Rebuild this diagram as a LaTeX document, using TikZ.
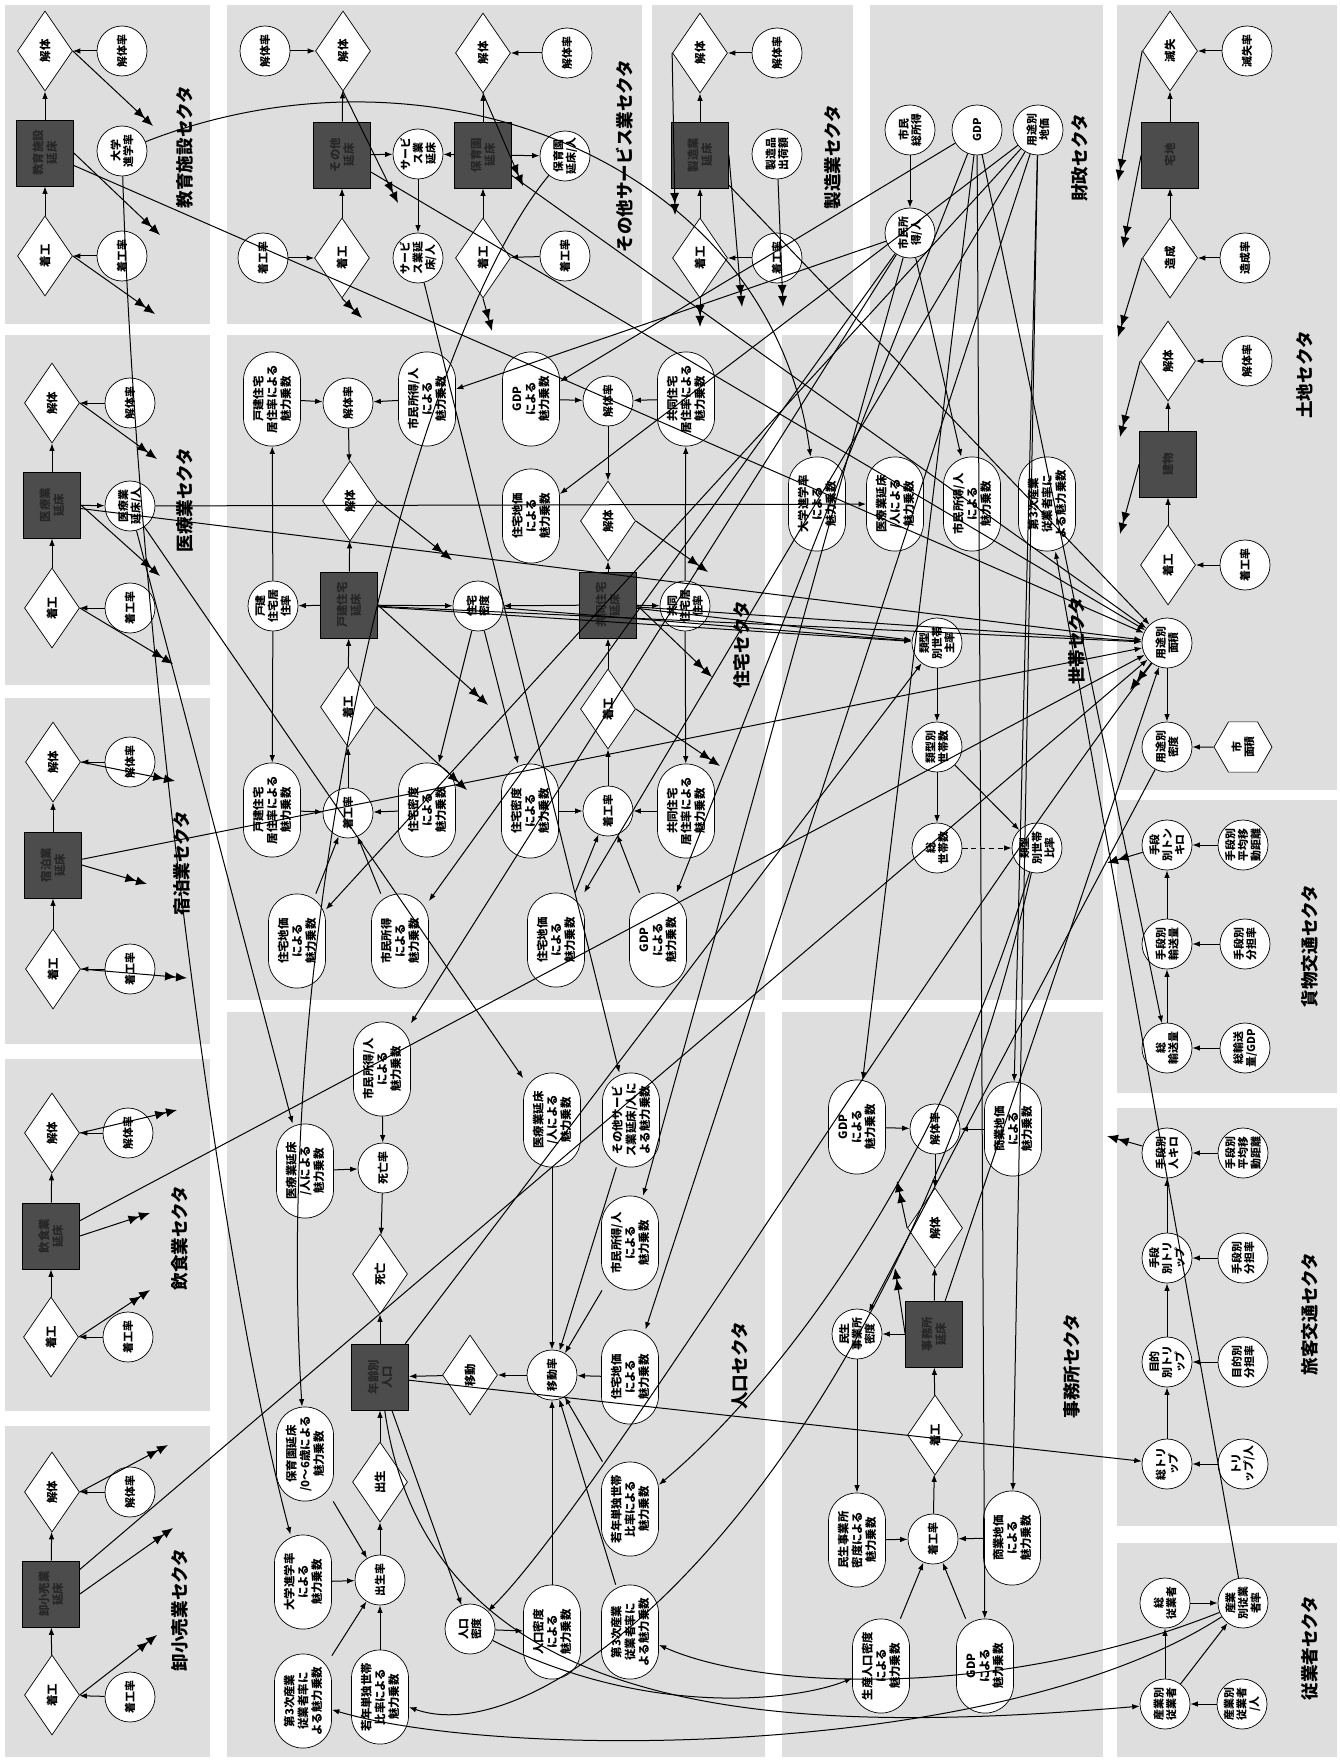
\documentclass[tikz,border=0pt]{standalone}
\usepackage{fontspec}
\setmainfont{Noto Sans CJK JP}
\usetikzlibrary{arrows.meta,shapes.geometric}
\newcommand\sdfont{\fontsize{6.5}{7.8}\selectfont\bfseries}
\newcommand\sdsmall{\fontsize{6.2}{7.2}\selectfont\bfseries}
\newcommand\secfont{\fontsize{10}{11}\selectfont\bfseries}
\tikzset{
panelbg/.style={fill=black!13,draw=none},
ratenode/.style={circle,draw,fill=white,minimum size=10mm,inner sep=0pt,align=center,font=\sdsmall,rotate=90},
flownode/.style={diamond,draw,fill=white,minimum width=16mm,minimum height=11mm,inner sep=0pt,font=\sdfont,rotate=90},
stocknode/.style={rectangle,draw,fill=black!70,text=black!85,minimum width=13.2mm,minimum height=11.4mm,inner sep=0pt,align=center,font=\sdfont,rotate=90},
multnode/.style={rectangle,rounded corners=5.6mm,draw,fill=white,minimum width=18.8mm,minimum height=11.4mm,inner sep=0pt,align=center,font=\sdfont,rotate=90},
hexnode/.style={regular polygon,regular polygon sides=6,regular polygon rotate=30,draw,fill=white,minimum size=11.6mm,inner sep=0pt,align=center,font=\sdsmall,rotate=90},
seclabel/.style={font=\secfont,rotate=90,inner sep=1pt},
arr/.style={-{Latex[length=1.5mm,width=1.1mm]},line width=0.2mm},
outarr/.style={-{Latex[length=2.2mm,width=1.8mm] Latex[length=2.2mm,width=1.8mm]},line width=0.2mm},
dotarr/.style={arr,densely dashed}
}

\begin{document}
\begin{tikzpicture}[
x=0.2mm,
y=-0.2mm
]
\useasboundingbox (0,0) rectangle (1339,1762);
\fill[white] (0,0) rectangle (1339,1762);
% sector panels
\fill[panelbg] (5,5) rectangle (210,324);
\fill[panelbg] (5,335) rectangle (210,685);
\fill[panelbg] (5,698) rectangle (210,1044);
\fill[panelbg] (5,1059) rectangle (210,1411);
\fill[panelbg] (5,1426) rectangle (210,1757);
\fill[panelbg] (227,5) rectangle (642,324);
\fill[panelbg] (652,5) rectangle (853,324);
\fill[panelbg] (870,5) rectangle (1103,324);
\fill[panelbg] (1117,5) rectangle (1337,790);
\fill[panelbg] (227,335) rectangle (765,1000);
\fill[panelbg] (782,335) rectangle (1103,1000);
\fill[panelbg] (227,1012) rectangle (765,1757);
\fill[panelbg] (782,1012) rectangle (1103,1757);
\fill[panelbg] (1117,800) rectangle (1337,1093);
\fill[panelbg] (1117,1108) rectangle (1337,1526);
\fill[panelbg] (1117,1543) rectangle (1337,1757);

% sector labels
\node[seclabel] (secEdu) at (185,147) {教育施設セクタ};
\node[seclabel] (secMed) at (185,500) {医療業セクタ};
\node[seclabel] (secLod) at (182,863) {宿泊業セクタ};
\node[seclabel] (secEat) at (180,1238) {飲食業セクタ};
\node[seclabel] (secRet) at (180,1610) {卸小売業セクタ};
\node[seclabel] (secSrv) at (625,156) {その他サービス業セクタ};
\node[seclabel] (secMfg) at (833,157) {製造業セクタ};
\node[seclabel] (secFin) at (1080,158) {財政セクタ};
\node[seclabel] (secLnd) at (1305,375) {土地セクタ};
\node[seclabel] (secHse) at (742,645) {住宅セクタ};
\node[seclabel] (secHh) at (1077,641) {世帯セクタ};
\node[seclabel] (secPop) at (740,1366) {人口セクタ};
\node[seclabel] (secOfc) at (1072,1366) {事務所セクタ};
\node[seclabel] (secFrt) at (1310,946) {貨物交通セクタ};
\node[seclabel] (secPsg) at (1310,1314) {旅客交通セクタ};
\node[seclabel] (secEmp) at (1310,1648) {従業者セクタ};

% left column sectors
\node[flownode] (eduDem) at (45,51) {解体};
\node[ratenode] (eduDemR) at (122,51) {解体率};
\node[stocknode] (eduBox) at (45,153) {教育施設\\延床};
\node[ratenode] (eduUniv) at (122,151) {大学\\進学率};
\node[flownode] (eduCon) at (45,256) {着工};
\node[ratenode] (eduConR) at (122,256) {着工率};

\node[flownode] (medDem) at (52,403) {解体};
\node[ratenode] (medDemR) at (130,403) {解体率};
\node[stocknode] (medBox) at (52,505) {医療業\\延床};
\node[ratenode] (medPer) at (130,506) {医療業\\延床/人};
\node[flownode] (medCon) at (52,608) {着工};
\node[ratenode] (medConR) at (130,608) {着工率};

\node[flownode] (lodDem) at (53,762) {解体};
\node[ratenode] (lodDemR) at (130,762) {解体率};
\node[stocknode] (lodBox) at (53,865) {宿泊業\\延床};
\node[flownode] (lodCon) at (53,969) {着工};
\node[ratenode] (lodConR) at (130,969) {着工率};

\node[flownode] (eatDem) at (52,1133) {解体};
\node[ratenode] (eatDemR) at (128,1133) {解体率};
\node[stocknode] (eatBox) at (51,1236) {飲食業\\延床};
\node[flownode] (eatCon) at (51,1337) {着工};
\node[ratenode] (eatConR) at (128,1337) {着工率};

\node[flownode] (retDem) at (52,1492) {解体};
\node[ratenode] (retDemR) at (130,1492) {解体率};
\node[stocknode] (retBox) at (51,1594) {卸小売業\\延床};
\node[flownode] (retCon) at (52,1695) {着工};
\node[ratenode] (retConR) at (130,1697) {着工率};

% top middle sectors
\node[ratenode] (srvDemR) at (265,51) {解体率};
\node[flownode] (srvDem) at (343,51) {解体};
\node[stocknode] (srvBox) at (342,155) {その他\\延床};
\node[ratenode] (srvFloor) at (418,154) {サービ\\ス業\\延床};
\node[ratenode] (srvConR) at (263,258) {着工率};
\node[flownode] (srvCon) at (342,258) {着工};
\node[ratenode] (srvPer) at (418,258) {サービ\\ス業延\\床/人};

\node[flownode] (nurDem) at (483,53) {解体};
\node[ratenode] (nurDemR) at (567,53) {解体率};
\node[stocknode] (nurBox) at (483,155) {保育園\\延床};
\node[ratenode] (nurPer) at (565,156) {保育園\\延床/人};
\node[flownode] (nurCon) at (483,258) {着工};
\node[ratenode] (nurConR) at (565,256) {着工率};

\node[flownode] (mfgDem) at (700,53) {解体};
\node[ratenode] (mfgDemR) at (777,53) {解体率};
\node[stocknode] (mfgBox) at (700,155) {製造業\\延床};
\node[ratenode] (mfgShip) at (777,154) {製造品\\出荷額};
\node[flownode] (mfgCon) at (700,258) {着工};
\node[ratenode] (mfgConR) at (777,258) {着工率};

\node[ratenode] (finInc) at (910,130) {市民\\総所得};
\node[ratenode] (finGDP) at (977,130) {GDP};
\node[ratenode] (finLP) at (1038,130) {用途別\\地価};
\node[ratenode] (finIncP) at (910,233) {市民所\\得/人};

\node[flownode] (lndLoss) at (1170,51) {滅失};
\node[ratenode] (lndLossR) at (1247,51) {滅失率};
\node[stocknode] (lndRoad) at (1170,155) {宅地};
\node[flownode] (lndMake) at (1170,258) {造成};
\node[ratenode] (lndMakeR) at (1245,258) {造成率};
\node[flownode] (lndDem) at (1168,361) {解体};
\node[ratenode] (lndDemR) at (1247,361) {解体率};
\node[stocknode] (lndBox) at (1168,464) {建物};
\node[flownode] (lndCon) at (1168,565) {着工};
\node[ratenode] (lndConR) at (1245,565) {着工率};
\node[ratenode] (lndArea) at (1167,643) {用途別\\面積};
\node[ratenode] (lndDen) at (1167,747) {用途別\\密度};
\node[hexnode] (lndCity) at (1243,747) {市\\面積};

% housing
\node[multnode] (hseDetRR) at (272,399) {戸建住宅\\居住率による\\魅力乗数};
\node[ratenode] (hseDetDemR) at (348,403) {解体率};
\node[multnode] (hseIncRR) at (427,399) {市民所得/人\\による\\魅力乗数};
\node[flownode] (hseDetDem) at (350,501) {解体};
\node[stocknode] (hseDetBox) at (349,605) {戸建住宅\\延床};
\node[ratenode] (hseDetRes) at (273,606) {戸建\\住宅居\\住率};
\node[ratenode] (hseDen) at (478,606) {住宅\\密度};
\node[flownode] (hseDetCon) at (348,707) {着工};
\node[multnode] (hseDetRR2) at (272,810) {戸建住宅\\居住率による\\魅力乗数};
\node[ratenode] (hseDetConR) at (348,813) {着工率};
\node[multnode] (hseDenRR) at (427,810) {住宅密度\\による\\魅力乗数};
\node[multnode] (hseLpRR) at (297,941) {住宅地価\\による\\魅力乗数};
\node[multnode] (hseIncRR2) at (400,941) {市民所得\\による\\魅力乗数};

\node[multnode] (hseGdpRR) at (531,399) {GDP\\による\\魅力乗数};
\node[ratenode] (hseColDemR) at (608,401) {解体率};
\node[multnode] (hseColRR) at (686,399) {共同住宅\\居住率による\\魅力乗数};
\node[multnode] (hseLpRR0) at (531,516) {住宅地価\\による\\魅力乗数};
\node[flownode] (hseColDem) at (608,521) {解体};
\node[stocknode] (hseColBox) at (608,605) {共同住宅\\延床};
\node[ratenode] (hseColRes) at (685,606) {共同\\住宅居\\住率};
\node[flownode] (hseColCon) at (608,709) {着工};
\node[multnode] (hseDenRR2) at (530,811) {住宅密度\\による\\魅力乗数};
\node[ratenode] (hseColConR) at (608,811) {着工率};
\node[multnode] (hseColRR2) at (686,811) {共同住宅\\居住率による\\魅力乗数};
\node[multnode] (hseLpRR2) at (556,940) {住宅地価\\による\\魅力乗数};
\node[multnode] (hseGdpRR2) at (658,940) {GDP\\による\\魅力乗数};

% households
\node[multnode] (eduRR) at (817,504) {大学進学率\\による\\魅力乗数};
\node[multnode] (medRR) at (895,504) {医療業延床\\/人による\\魅力乗数};
\node[multnode] (incRR) at (972,504) {市民所得/人\\による\\魅力乗数};
\node[multnode] (terRR) at (1047,504) {第3次産業\\従業者率に\\よる魅力乗数};
\node[ratenode] (hhHeadR) at (937,643) {類型\\別世帯\\主率};
\node[ratenode] (hhNum) at (937,747) {類型別\\世帯数};
\node[ratenode] (hhTot) at (937,848) {総\\世帯数};
\node[ratenode] (hhRatio) at (1037,848) {類型\\別世帯\\比率};

% freight
\node[ratenode] (frtTkm) at (1167,845) {手段\\別トン\\キロ};
\node[ratenode] (frtDist) at (1243,845) {手段別\\平均移\\動距離};
\node[ratenode] (frtMode) at (1167,944) {手段別\\輸送量};
\node[ratenode] (frtShare) at (1245,944) {手段別\\分担率};
\node[ratenode] (frtTot) at (1167,1048) {総\\輸送量};
\node[ratenode] (frtGdp) at (1245,1048) {総輸送\\量/GDP};

% passengers
\node[ratenode] (psgPkm) at (1167,1153) {手段別\\人キロ};
\node[ratenode] (psgDist) at (1243,1153) {手段別\\平均移\\動距離};
\node[ratenode] (psgMode) at (1167,1258) {手段\\別トリ\\ップ};
\node[ratenode] (psgModeS) at (1243,1258) {手段別\\分担率};
\node[ratenode] (psgPurp) at (1167,1362) {目的\\別トリ\\ップ};
\node[ratenode] (psgPurpS) at (1243,1362) {目的別\\分担率};
\node[ratenode] (psgTot) at (1167,1464) {総トリ\\ップ};
\node[ratenode] (psgPer) at (1243,1464) {トリ\\ップ/人};

% employees
\node[ratenode] (empTot) at (1165,1603) {総\\従業者};
\node[ratenode] (empRate) at (1243,1603) {産業\\別従業\\者率};
\node[ratenode] (empInd) at (1165,1704) {産業別\\従業者};
\node[ratenode] (empPer) at (1242,1704) {産業別\\従業者\\/人};

% population
\node[multnode] (popIncRR) at (382,1069) {市民所得/人\\による\\魅力乗数};
\node[multnode] (popMedRR) at (305,1171) {医療業延床\\/人による\\魅力乗数};
\node[ratenode] (popDthR) at (383,1168) {死亡率};
\node[flownode] (popDth) at (380,1274) {死亡};
\node[stocknode] (popBox) at (380,1377) {年齢別\\人口};
\node[flownode] (popBirth) at (380,1482) {出生};
\node[multnode] (popNurRR) at (305,1454) {保育園延床\\/0〜6歳による\\魅力乗数};
\node[multnode] (popUnivRR) at (303,1582) {大学進学率\\による\\魅力乗数};
\node[ratenode] (popBirthR) at (380,1580) {出生率};
\node[multnode] (popTerRR) at (303,1701) {第3次産業\\従業者率に\\よる魅力乗数};
\node[multnode] (popYngRR) at (380,1697) {若年単独世帯\\比率による\\魅力乗数};
\node[multnode] (popMedRR2) at (552,1120) {医療業延床\\/人による\\魅力乗数};
\node[multnode] (popSrvRR) at (631,1120) {その他サービ\\ス業延床/人に\\よる魅力乗数};
\node[multnode] (popIncRR2) at (630,1243) {市民所得/人\\による\\魅力乗数};
\node[flownode] (popMov) at (470,1375) {移動};
\node[ratenode] (popMovR) at (552,1375) {移動率};
\node[multnode] (popLpRR) at (630,1377) {住宅地価\\による\\魅力乗数};
\node[multnode] (popYngRR2) at (630,1509) {若年単独世帯\\比率による\\魅力乗数};
\node[ratenode] (popDen) at (470,1629) {人口\\密度};
\node[multnode] (popDenRR) at (552,1632) {人口密度\\による\\魅力乗数};
\node[multnode] (popTerRR2) at (630,1632) {第3次産業\\従業者率に\\よる魅力乗数};

% offices
\node[multnode] (ofcGdpRR) at (857,1127) {GDP\\による\\魅力乗数};
\node[ratenode] (ofcDemR) at (935,1129) {解体率};
\node[multnode] (ofcLpRR) at (1013,1129) {商業地価\\による\\魅力乗数};
\node[flownode] (ofcDem) at (935,1228) {解体};
\node[stocknode] (ofcBox) at (934,1334) {事務所\\延床};
\node[ratenode] (ofcWelf) at (857,1334) {民生\\事業所\\密度};
\node[flownode] (ofcCon) at (935,1435) {着工};
\node[ratenode] (ofcConR) at (933,1539) {着工率};
\node[multnode] (ofcWelfRR) at (857,1540) {民生事業所\\密度による\\魅力乗数};
\node[multnode] (ofcLpRR2) at (1012,1538) {商業地価\\による\\魅力乗数};
\node[multnode] (ofcProdRR) at (881,1666) {生産人口密度\\による\\魅力乗数};
\node[multnode] (ofcGdpRR2) at (985,1666) {GDP\\による\\魅力乗数};

% ends of outgoing links
\coordinate (eduOutA) at (153,126);
\coordinate (eduOutB) at (160,235);
\coordinate (eduOutC) at (155,314);
\coordinate (medOutA) at (157,459);
\coordinate (medOutB) at (160,576);
\coordinate (medOutC) at (173,664);
\coordinate (lodOutA) at (175,781);
\coordinate (lodOutB) at (147,884);
\coordinate (lodOutC) at (187,978);
\coordinate (eatOutA) at (177,1110);
\coordinate (eatOutB) at (150,1213);
\coordinate (eatOutC) at (150,1290);
\coordinate (retOutA) at (168,1445);
\coordinate (retOutB) at (173,1528);
\coordinate (retOutC) at (157,1635);
\coordinate (srvOutA) at (398,203);
\coordinate (srvOutB) at (362,318);
\coordinate (nurOutA) at (523,186);
\coordinate (nurOutB) at (492,331);
\coordinate (mfgOutA) at (675,215);
\coordinate (mfgOutB) at (742,307);
\coordinate (mfgOutC) at (700,327);
\coordinate (mfgOutD) at (783,307);
\coordinate (lndOutA) at (1118,181);
\coordinate (lndOutB) at (1123,248);
\coordinate (lndOutC) at (1118,337);
\coordinate (lndOutD) at (1120,437);
\coordinate (lndOutE) at (1120,534);
\coordinate (lndOutF) at (1130,690);
\coordinate (hseOutA) at (452,560);
\coordinate (hseOutB) at (488,705);
\coordinate (hseOutC) at (467,790);
\coordinate (hseOutD) at (708,572);
\coordinate (hseOutE) at (712,677);
\coordinate (hseOutF) at (720,766);
\coordinate (ofcOutA) at (897,1181);
\coordinate (ofcOutB) at (895,1268);
\coordinate (frtOut) at (1107,863);
\coordinate (psgOut) at (1107,1136);

% stock and flow chains
\draw[arr] (eduCon)--(eduBox);
\draw[arr] (eduBox)--(eduDem);
\draw[arr] (eduDemR)--(eduDem);
\draw[arr] (eduConR)--(eduCon);
\draw[arr] (medCon)--(medBox);
\draw[arr] (medBox)--(medDem);
\draw[arr] (medDemR)--(medDem);
\draw[arr] (medConR)--(medCon);
\draw[arr] (medBox)--(medPer);
\draw[arr] (lodCon)--(lodBox);
\draw[arr] (lodBox)--(lodDem);
\draw[arr] (lodDemR)--(lodDem);
\draw[arr] (lodConR)--(lodCon);
\draw[arr] (eatCon)--(eatBox);
\draw[arr] (eatBox)--(eatDem);
\draw[arr] (eatDemR)--(eatDem);
\draw[arr] (eatConR)--(eatCon);
\draw[arr] (retCon)--(retBox);
\draw[arr] (retBox)--(retDem);
\draw[arr] (retDemR)--(retDem);
\draw[arr] (retConR)--(retCon);

\draw[arr] (srvCon)--(srvBox);
\draw[arr] (srvBox)--(srvDem);
\draw[arr] (srvDemR)--(srvDem);
\draw[arr] (srvConR)--(srvCon);
\draw[arr] (srvBox)--(srvFloor);
\draw[arr] (nurBox)--(srvFloor);
\draw[arr] (srvFloor)--(srvPer);
\draw[arr] (nurCon)--(nurBox);
\draw[arr] (nurBox)--(nurDem);
\draw[arr] (nurDemR)--(nurDem);
\draw[arr] (nurConR)--(nurCon);
\draw[arr] (nurBox)--(nurPer);
\draw[arr] (mfgCon)--(mfgBox);
\draw[arr] (mfgBox)--(mfgDem);
\draw[arr] (mfgDemR)--(mfgDem);
\draw[arr] (mfgConR)--(mfgCon);

\draw[arr] (finInc)--(finIncP);
\draw[arr] (lndMake)--(lndRoad);
\draw[arr] (lndRoad)--(lndLoss);
\draw[arr] (lndLossR)--(lndLoss);
\draw[arr] (lndMakeR)--(lndMake);
\draw[arr] (lndCon)--(lndBox);
\draw[arr] (lndBox)--(lndDem);
\draw[arr] (lndDemR)--(lndDem);
\draw[arr] (lndConR)--(lndCon);
\draw[arr] (lndArea)--(lndDen);
\draw[arr] (lndCity)--(lndDen);

\draw[arr] (hseDetRR)--(hseDetDemR);
\draw[arr] (hseIncRR)--(hseDetDemR);
\draw[arr] (hseDetDemR)--(hseDetDem);
\draw[arr] (hseDetBox)--(hseDetDem);
\draw[arr] (hseDetBox)--(hseDetRes);
\draw[arr] (hseDetCon)--(hseDetBox);
\draw[arr] (hseDetConR)--(hseDetCon);
\draw[arr] (hseDetRR2)--(hseDetConR);
\draw[arr] (hseDenRR)--(hseDetConR);
\draw[arr] (hseLpRR)--(hseDetConR);
\draw[arr] (hseIncRR2)--(hseDetConR);
\draw[arr] (hseDetRes)--(hseDetRR);
\draw[arr] (hseDetRes)--(hseDetRR2);
\draw[arr] (hseDen)--(hseDenRR);
\draw[arr] (hseDen)--(hseDenRR2);
\draw[arr] (hseDetBox)--(hseDen);
\draw[arr] (hseColBox)--(hseDen);
\draw[arr] (hseGdpRR)--(hseColDemR);
\draw[arr] (hseColRR)--(hseColDemR);
\draw[arr] (hseColDemR)--(hseColDem);
\draw[arr] (hseColBox)--(hseColDem);
\draw[arr] (hseColBox)--(hseColRes);
\draw[arr] (hseColCon)--(hseColBox);
\draw[arr] (hseColConR)--(hseColCon);
\draw[arr] (hseDenRR2)--(hseColConR);
\draw[arr] (hseColRR2)--(hseColConR);
\draw[arr] (hseLpRR2)--(hseColConR);
\draw[arr] (hseGdpRR2)--(hseColConR);
\draw[arr] (hseColRes)--(hseColRR);
\draw[arr] (hseColRes)--(hseColRR2);

\draw[arr] (hhHeadR)--(hhNum);
\draw[arr] (hhNum)--(hhTot);
\draw[dotarr] (hhTot)--(hhRatio);
\draw[arr] (hhNum)--(hhRatio);

\draw[arr] (frtGdp)--(frtTot);
\draw[arr] (frtTot)--(frtMode);
\draw[arr] (frtShare)--(frtMode);
\draw[arr] (frtMode)--(frtTkm);
\draw[arr] (frtDist)--(frtTkm);
\draw[arr] (psgPer)--(psgTot);
\draw[arr] (psgTot)--(psgPurp);
\draw[arr] (psgPurpS)--(psgPurp);
\draw[arr] (psgPurp)--(psgMode);
\draw[arr] (psgModeS)--(psgMode);
\draw[arr] (psgMode)--(psgPkm);
\draw[arr] (psgDist)--(psgPkm);
\draw[arr] (empPer)--(empInd);
\draw[arr] (empInd)--(empTot);
\draw[arr] (empTot)--(empRate);
\draw[arr] (empInd)--(empRate);

\draw[arr] (popIncRR)--(popDthR);
\draw[arr] (popMedRR)--(popDthR);
\draw[arr] (popDthR)--(popDth);
\draw[arr] (popBox)--(popDth);
\draw[arr] (popBirth)--(popBox);
\draw[arr] (popBirthR)--(popBirth);
\draw[arr] (popNurRR)--(popBirthR);
\draw[arr] (popUnivRR)--(popBirthR);
\draw[arr] (popTerRR)--(popBirthR);
\draw[arr] (popYngRR)--(popBirthR);
\draw[arr] (popMovR)--(popMov);
\draw[arr] (popMov)--(popBox);
\draw[arr] (popMedRR2)--(popMovR);
\draw[arr] (popSrvRR)--(popMovR);
\draw[arr] (popIncRR2)--(popMovR);
\draw[arr] (popLpRR)--(popMovR);
\draw[arr] (popYngRR2)--(popMovR);
\draw[arr] (popDenRR)--(popMovR);
\draw[arr] (popTerRR2)--(popMovR);
\draw[arr] (popDen)--(popDenRR);
\draw[arr] (popBox)--(popDen);

\draw[arr] (ofcGdpRR)--(ofcDemR);
\draw[arr] (ofcLpRR)--(ofcDemR);
\draw[arr] (ofcDemR)--(ofcDem);
\draw[arr] (ofcBox)--(ofcDem);
\draw[arr] (ofcCon)--(ofcBox);
\draw[arr] (ofcConR)--(ofcCon);
\draw[arr] (ofcWelfRR)--(ofcConR);
\draw[arr] (ofcLpRR2)--(ofcConR);
\draw[arr] (ofcProdRR)--(ofcConR);
\draw[arr] (ofcGdpRR2)--(ofcConR);
\draw[arr] (ofcWelf)--(ofcWelfRR);
\draw[arr] (ofcBox)--(ofcWelf);

% outgoing links
\draw[outarr] (eduDem.south)--(eduOutA);
\draw[outarr] (eduBox.south)--(eduOutB);
\draw[outarr] (eduCon.south)--(eduOutC);
\draw[outarr] (medDem.south)--(medOutA);
\draw[outarr] (medBox.south)--(medOutB);
\draw[outarr] (medCon.south)--(medOutC);
\draw[outarr] (lodDem.south)--(lodOutA);
\draw[outarr] (lodBox.south)--(lodOutB);
\draw[outarr] (lodCon.south)--(lodOutC);
\draw[outarr] (eatDem.south)--(eatOutA);
\draw[outarr] (eatBox.south)--(eatOutB);
\draw[outarr] (eatCon.south)--(eatOutC);
\draw[outarr] (retDem.south)--(retOutA);
\draw[outarr] (retBox.south)--(retOutB);
\draw[outarr] (retCon.south)--(retOutC);
\draw[outarr] (srvDem.west)--(srvOutA);
\draw[outarr] (srvCon.west)--(srvOutB);
\draw[outarr] (nurDem.west)--(nurOutA);
\draw[outarr] (nurCon.west)--(nurOutB);
\draw[outarr] (mfgDem.north)--(mfgOutA);
\draw[outarr] (mfgBox.south)--(mfgOutB);
\draw[outarr] (mfgCon.west)--(mfgOutC);
\draw[outarr] (mfgShip)--(mfgOutD);
\draw[outarr] (lndLoss.north)--(lndOutA);
\draw[outarr] (lndRoad.north)--(lndOutB);
\draw[outarr] (lndMake.north)--(lndOutC);
\draw[outarr] (lndDem.north)--(lndOutD);
\draw[outarr] (lndBox.north)--(lndOutE);
\draw[outarr] (lndArea)--(lndOutF);
\draw[outarr] (hseDetDem.south)--(hseOutA);
\draw[outarr] (hseDetBox.south)--(hseOutB);
\draw[outarr] (hseDetCon.south)--(hseOutC);
\draw[outarr] (hseColDem.south)--(hseOutD);
\draw[outarr] (hseColBox.south)--(hseOutE);
\draw[outarr] (hseColCon.south)--(hseOutF);
\draw[outarr] (ofcDem.north)--(ofcOutA);
\draw[outarr] (ofcBox.north)--(ofcOutB);
\draw[outarr] (frtTkm)--(frtOut);
\draw[outarr] (psgPkm)--(psgOut);

% links between sectors
\draw[arr] (finIncP)--(hseIncRR);
\draw[arr] (finIncP)--(hseIncRR2);
\draw[arr] (finIncP)--(popIncRR);
\draw[arr] (finIncP)--(popIncRR2);
\draw[arr] (finIncP)--(incRR);
\draw[arr] (finGDP)--(hseGdpRR);
\draw[arr] (finGDP)--(hseGdpRR2);
\draw[arr] (finGDP)--(ofcGdpRR);
\draw[arr] (finGDP)--(ofcGdpRR2);
\draw[arr] (finGDP)--(frtTot);
\draw[arr] (finLP)--(hseLpRR0);
\draw[arr] (finLP)--(hseLpRR);
\draw[arr] (finLP)--(hseLpRR2);
\draw[arr] (finLP)--(popLpRR);
\draw[arr] (finLP)--(ofcLpRR);
\draw[arr] (finLP)--(ofcLpRR2);
\draw[arr] (eduBox)--(lndArea);
\draw[arr] (medBox)--(lndArea);
\draw[arr] (lodBox)--(lndArea);
\draw[arr] (eatBox)--(lndArea);
\draw[arr] (retBox)--(lndArea);
\draw[arr] (srvBox)--(lndArea);
\draw[arr] (nurBox)--(lndArea);
\draw[arr] (mfgBox)--(lndArea);
\draw[arr] (hseDetBox)--(lndArea);
\draw[arr] (hseColBox)--(lndArea);
\draw[arr] (ofcBox)--(lndArea);
\draw[arr] (eduUniv) .. controls (430,30) and (770,160) .. (eduRR);
\draw[arr] (eduUniv) .. controls (135,600) and (215,1250) .. (popUnivRR);
\draw[arr] (medPer)--(medRR);
\draw[arr] (medPer)--(popMedRR);
\draw[arr] (medPer)--(popMedRR2);
\draw[arr] (srvPer)--(popSrvRR);
\draw[arr] (nurPer) .. controls (420,330) and (270,900) .. (popNurRR);
\draw[arr] (popBox)--(hhHeadR);
\draw[arr] (hseDen)--(hhHeadR);
\draw[arr] (hseDetBox)--(hhHeadR);
\draw[arr] (hseColBox)--(hhHeadR);
\draw[arr] (popBox)--(psgTot);
\draw[arr] (popBox) .. controls (430,1730) and (800,1735) .. (empInd);
\draw[arr] (hhRatio) .. controls (930,1200) and (760,1400) .. (popYngRR2);
\draw[arr] (hhRatio) .. controls (900,1450) and (560,1760) .. (popYngRR);
\draw[arr] (empRate)--(terRR);
\draw[arr] (empRate) .. controls (1000,1700) and (760,1690) .. (popTerRR2);
\draw[arr] (empRate) .. controls (1000,1760) and (500,1760) .. (popTerRR);
\draw[arr] (lndDen)--(ofcWelf);
\draw[arr] (lndArea) .. controls (900,1000) and (600,1500) .. (popDen);
\draw[arr] (popDen) .. controls (650,1720) and (800,1700) .. (ofcProdRR);
\end{tikzpicture}
\end{document}
